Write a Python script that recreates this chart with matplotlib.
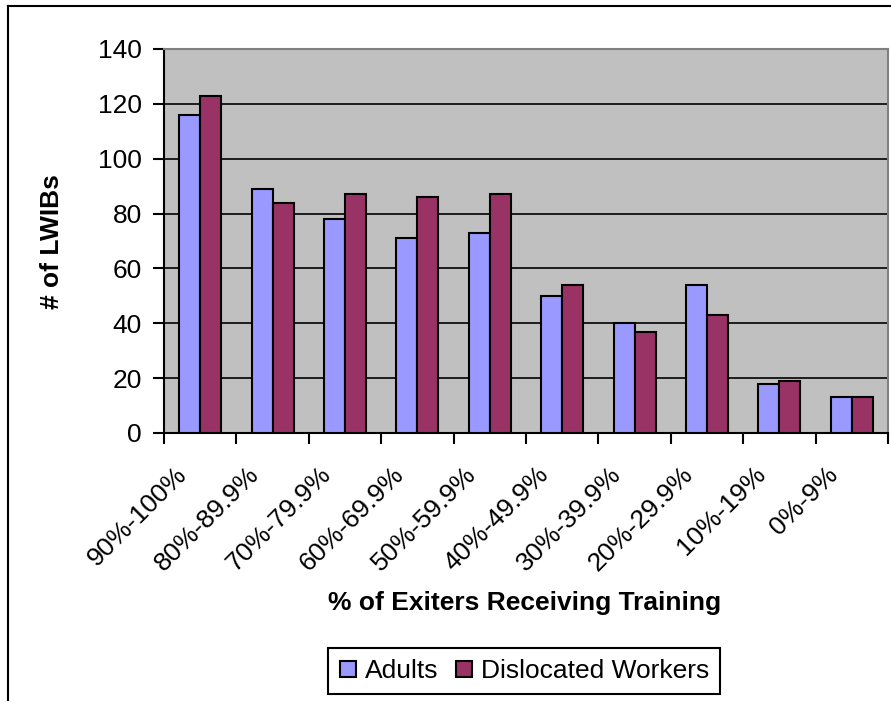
import matplotlib
matplotlib.use('Agg')
import matplotlib.pyplot as plt
from matplotlib.lines import Line2D
from matplotlib.ticker import FixedLocator
import matplotlib.transforms as mtransforms
import numpy as np

# data
categories = ['90%-100%', '80%-89.9%', '70%-79.9%', '60%-69.9%', '50%-59.9%',
              '40%-49.9%', '30%-39.9%', '20%-29.9%', '10%-19%', '0%-9%']
adults = [116, 89, 78, 71, 73, 50, 40, 54, 18, 13]
dislocated = [123, 84, 87, 86, 87, 54, 37, 43, 19, 13]
yticks = [0, 20, 40, 60, 80, 100, 120, 140]

plt.rcParams['font.family'] = ['Liberation Sans', 'DejaVu Sans']
fs = 19

fig = plt.figure(figsize=(8.91, 7.01), dpi=100)
ax = fig.add_axes([164/891, 1 - 433/701, 724/891, 384/701])
ax.set_facecolor('#C0C0C0')

x = np.arange(len(categories))
w = 0.29
ax.bar(x - w/2, adults, w, color='#9999FF', edgecolor='black', linewidth=1.5,
       label='Adults', zorder=3)
ax.bar(x + w/2, dislocated, w, color='#993366', edgecolor='black', linewidth=1.5,
       label='Dislocated Workers', zorder=3)

ax.set_xlim(-0.5, len(categories) - 0.5)
ax.set_ylim(0, 140)
ax.set_yticks(yticks)
ax.yaxis.grid(True, color='black', linewidth=1.2, zorder=1)
ax.set_axisbelow(True)

# category labels at the centres, tick marks at the boundaries
ax.set_xticks(x)
ax.set_xticklabels(categories, rotation=45, ha='right', rotation_mode='anchor', fontsize=fs)
ax.tick_params(axis='x', which='major', length=0, pad=21)
offset = mtransforms.ScaledTranslation(-26/100, 0, fig.dpi_scale_trans)
for lbl in ax.get_xticklabels():
    lbl.set_transform(lbl.get_transform() + offset)
ax.xaxis.set_minor_locator(FixedLocator(np.arange(-0.5, len(categories), 1.0)))
ax.tick_params(axis='x', which='minor', length=8, width=1.5, direction='out')
ax.tick_params(axis='y', length=8, width=1.5, direction='out', pad=8, labelsize=fs)

for s in ['top', 'right']:
    ax.spines[s].set_color('#808080')
    ax.spines[s].set_linewidth(1.5)
for s in ['left', 'bottom']:
    ax.spines[s].set_color('black')
    ax.spines[s].set_linewidth(1.5)

fig.text(525/891, 1 - 603/701, '% of Exiters Receiving Training', ha='center', va='center',
         fontsize=fs, fontweight='bold')
fig.text(52/891, 1 - 242/701, '# of LWIBs', ha='center', va='center', rotation=90,
         fontsize=fs, fontweight='bold')

# legend
handles = [Line2D([], [], marker='s', linestyle='none', markersize=12,
                  markerfacecolor=c, markeredgecolor='black', markeredgewidth=1.5)
           for c in ['#9999FF', '#993366']]
leg = fig.legend(handles, ['Adults', 'Dislocated Workers'], loc='center',
                 bbox_to_anchor=(524/891, 1 - 671/701), ncol=2, fontsize=fs,
                 frameon=True, fancybox=False, framealpha=1, edgecolor='black',
                 handlelength=0.7, handletextpad=0.3, columnspacing=0.6,
                 borderpad=0.4, borderaxespad=0)
leg.get_frame().set_linewidth(1.5)

# outer chart border (cropped at right and bottom)
fig.add_artist(Line2D([8/891, 8/891], [0, 1 - 6/701], color='black', linewidth=1.5,
                      transform=fig.transFigure))
fig.add_artist(Line2D([8/891, 1], [1 - 6/701, 1 - 6/701], color='black', linewidth=1.5,
                      transform=fig.transFigure))

fig.savefig('out.png', dpi=100)
